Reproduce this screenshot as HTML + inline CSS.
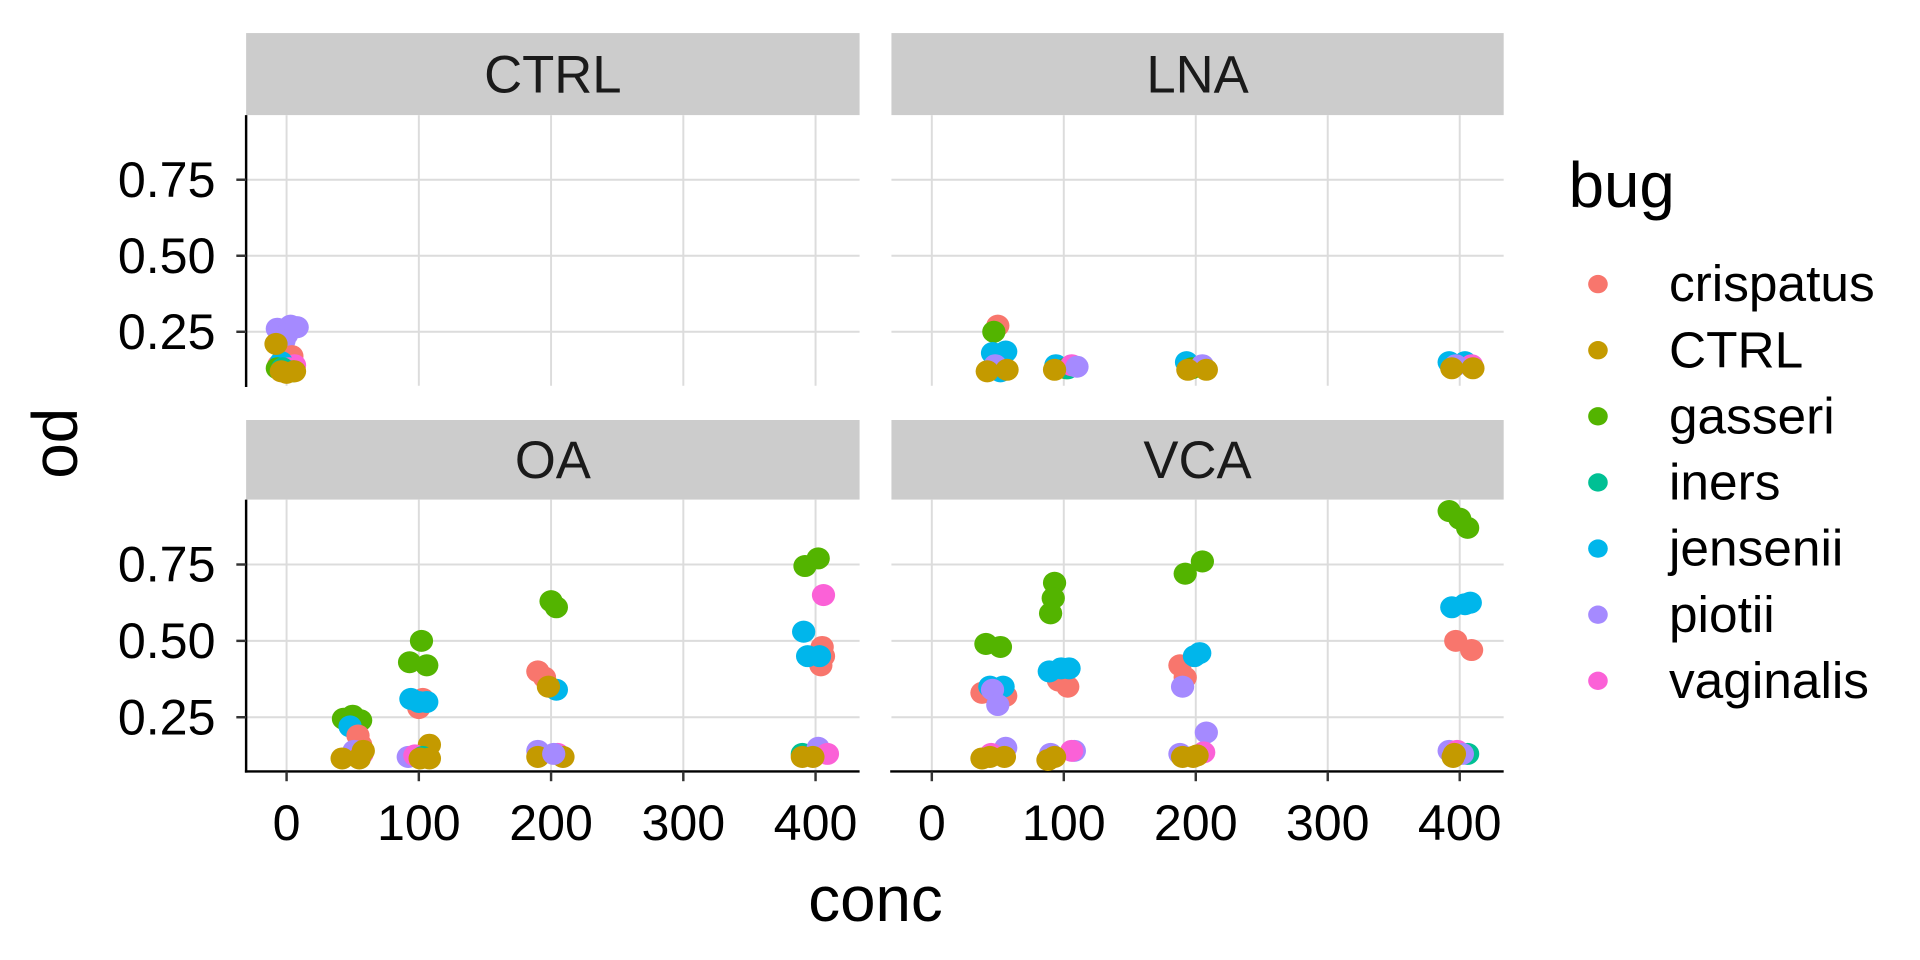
<!DOCTYPE html>
<html><head><meta charset="utf-8"><style>
html,body{margin:0;padding:0;background:#fff;}
svg{display:block;font-family:"Liberation Sans",Arial,sans-serif;}
</style></head><body>
<svg id="chart" width="1920" height="960" viewBox="0 0 1568 784" preserveAspectRatio="none" xmlns="http://www.w3.org/2000/svg"></svg>
<script>
// ---- data ----
const bugNames = ["crispatus","CTRL","gasseri","iners","jensenii","piotii","vaginalis"];
const bugColors = ["#F8766D","#C49A00","#53B400","#00C094","#00B6EB","#A58AFF","#FB61D7"];
const panelNames = ["CTRL","LNA","OA","VCA"];
const xTicks = [0,100,200,300,400];
const yTicks = [0.25,0.50,0.75];
const yTickLabels = ["0.25","0.50","0.75"];
// rows: [conc, jitter, bugIndex, od]
const ctrlPoints = [
 [0,-7,5,0.26],[0,3,5,0.27],[0,8,5,0.265],[0,0,5,0.24],[0,-2,5,0.22],
 [0,4,0,0.17],[0,-6,0,0.14],[0,6,6,0.14],[0,-4,4,0.15],[0,2,6,0.13],
 [0,-7,2,0.13],[0,5,2,0.12],[0,-3,3,0.13],[0,-8,1,0.21],[0,-4,1,0.12],[0,6,1,0.12],[0,0,1,0.115]
];
const lnaPoints = [
 [50,0,0,0.27],[50,-3,2,0.25],[50,-4,4,0.18],[50,6,4,0.185],[50,2,4,0.12],[50,-2,5,0.14],[50,-8,1,0.12],[50,7,1,0.125],
 [100,-6,4,0.14],[100,2,2,0.13],[100,3,3,0.13],[100,6,6,0.14],[100,10,5,0.135],[100,-7,1,0.125],
 [200,-7,4,0.15],[200,-3,2,0.13],[200,5,5,0.14],[200,8,1,0.125],[200,-6,1,0.125],
 [400,-8,4,0.15],[400,4,4,0.15],[400,9,6,0.14],[400,-3,5,0.14],[400,-6,1,0.13],[400,10,1,0.13]
];
const oaPoints = [
 [50,-7,2,0.245],[50,0,2,0.255],[50,6,2,0.24],[50,-2,4,0.22],[50,4,0,0.19],[50,6,0,0.16],
 [50,1,5,0.14],[50,7,6,0.13],[50,8,1,0.14],[50,-8,1,0.115],[50,5,1,0.115],
 [100,-7,2,0.43],[100,2,2,0.50],[100,6,2,0.42],[100,0,0,0.28],[100,3,0,0.31],[100,-6,4,0.31],[100,0,4,0.30],[100,6,4,0.30],
 [100,8,1,0.16],[100,-8,5,0.12],[100,-3,6,0.125],[100,3,3,0.12],[100,1,1,0.115],[100,8,1,0.115],
 [200,0,2,0.63],[200,4,2,0.61],[200,-10,0,0.40],[200,-5,0,0.38],[200,4,4,0.34],[200,-2,1,0.35],
 [200,-10,5,0.14],[200,5,6,0.13],[200,9,1,0.12],[200,-10,1,0.12],[200,2,5,0.13],
 [400,-8,2,0.745],[400,2,2,0.77],[400,6,6,0.65],[400,-9,4,0.53],[400,5,0,0.48],[400,6,0,0.45],[400,4,0,0.42],
 [400,-6,4,0.45],[400,3,4,0.45],[400,-10,3,0.13],[400,2,5,0.15],[400,9,6,0.13],[400,-10,1,0.12],[400,-2,1,0.12]
];
const vcaPoints = [
 [50,-9,2,0.49],[50,2,2,0.48],[50,-12,0,0.33],[50,6,0,0.32],[50,-6,4,0.35],[50,4,4,0.35],[50,-4,5,0.34],[50,0,5,0.29],
 [50,6,5,0.15],[50,-5,6,0.13],[50,-12,1,0.115],[50,-6,1,0.12],[50,5,1,0.12],
 [100,-7,2,0.69],[100,-8,2,0.64],[100,-10,2,0.59],[100,-4,0,0.37],[100,3,0,0.35],[100,-11,4,0.40],[100,-2,4,0.41],[100,4,4,0.41],
 [100,8,5,0.14],[100,-10,5,0.13],[100,6,6,0.14],[100,-12,1,0.11],[100,-7,1,0.12],
 [200,-8,2,0.72],[200,5,2,0.76],[200,-12,0,0.42],[200,-8,0,0.38],[200,-1,4,0.45],[200,3,4,0.46],[200,-10,5,0.35],[200,8,5,0.20],
 [200,6,6,0.135],[200,-12,5,0.13],[200,-10,1,0.12],[200,-2,1,0.12],[200,1,1,0.125],
 [400,-8,2,0.925],[400,0,2,0.90],[400,6,2,0.87],[400,-6,4,0.61],[400,4,4,0.62],[400,8,4,0.625],[400,-3,0,0.50],[400,9,0,0.47],
 [400,6,3,0.13],[400,-8,5,0.14],[400,-2,6,0.14],[400,2,5,0.13],[400,-5,1,0.12],[400,-4,1,0.13]
];
const panelData = [ctrlPoints, lnaPoints, oaPoints, vcaPoints];

// ---- layout ----
const NS = "http://www.w3.org/2000/svg";
const svg = document.getElementById("chart");
const panels = [
 {x0:201,x1:702,y0:94,y1:315,s0:27},
 {x0:728,x1:1228,y0:94,y1:315,s0:27},
 {x0:201,x1:702,y0:408,y1:630,s0:343},
 {x0:728,x1:1228,y0:408,y1:630,s0:343}
];
const xMin=-30.6, xMax=433.3, yMin=0.0726, yMax=0.9625;
function mk(tag, attrs, parent){
  const e=document.createElementNS(NS,tag);
  for(const k in attrs) e.setAttribute(k,attrs[k]);
  (parent||svg).appendChild(e); return e;
}
panels.forEach((p,pi)=>{
  const xs = v => p.x0 + (v-xMin)/(xMax-xMin)*(p.x1-p.x0);
  const ys = v => p.y1 - (v-yMin)/(yMax-yMin)*(p.y1-p.y0);
  const g = mk("g",{});
  
  
  const strip = mk("rect",{x:p.x0,y:p.s0,width:p.x1-p.x0,height:p.y0-p.s0,fill:"#CCCCCC"},g);
  
  
  const st = mk("text",{x:(p.x0+p.x1)/2,y:(p.s0+p.y0)/2+15,"text-anchor":"middle","font-size":43,fill:"#1A1A1A"},g);
  st.textContent = panelNames[pi];
  
  
  yTicks.forEach(t=>{
    const l=mk("line",{x1:p.x0,x2:p.x1,y1:ys(t),y2:ys(t),stroke:"#DCDCDC","stroke-width":1.6},g);
    
    
  });
  xTicks.forEach(t=>{
    const l=mk("line",{x1:xs(t),x2:xs(t),y1:p.y0,y2:p.y1,stroke:"#DCDCDC","stroke-width":1.6},g);
    
    
  });
  if(pi%2===0){
    const ax=mk("line",{x1:p.x0,x2:p.x0,y1:p.y0,y2:p.y1+1,stroke:"#000","stroke-width":2},g);
    
    
    yTicks.forEach((t,i)=>{
      const tk=mk("line",{x1:p.x0-8,x2:p.x0,y1:ys(t),y2:ys(t),stroke:"#333","stroke-width":2},g);
      
      
      const tl=mk("text",{x:p.x0-25,y:ys(t)+14,"text-anchor":"end","font-size":41,fill:"#000"},g);
      tl.textContent=yTickLabels[i];
      
      
    });
  }
  if(pi>=2){
    const ax=mk("line",{x1:p.x0-1,x2:p.x1,y1:p.y1,y2:p.y1,stroke:"#000","stroke-width":2},g);
    
    
    xTicks.forEach(t=>{
      const tk=mk("line",{x1:xs(t),x2:xs(t),y1:p.y1,y2:p.y1+8,stroke:"#333","stroke-width":2},g);
      
      
      const tl=mk("text",{x:xs(t),y:p.y1+56,"text-anchor":"middle","font-size":41,fill:"#000"},g);
      tl.textContent=String(t);
      
      
    });
  }
  panelData[pi].forEach(r=>{
    const c=mk("ellipse",{cx:xs(r[0]+r[1]),cy:ys(r[3]),rx:9.5,ry:9,fill:bugColors[r[2]]},g);
    
    
  });
});
// axis titles
const yt=mk("text",{x:0,y:0,transform:"translate(63,362) rotate(-90)","text-anchor":"middle","font-size":52,fill:"#000"});
yt.textContent="od";


const xt=mk("text",{x:715,y:752,"text-anchor":"middle","font-size":52,fill:"#000"});
xt.textContent="conc";


// legend
const lg=mk("g",{});


const lt=mk("text",{x:1281,y:169,"font-size":52,fill:"#000"},lg);
lt.textContent="bug";


bugNames.forEach((b,i)=>{
  const y=232+i*54;
  const e=mk("g",{},lg);
  
  
  mk("ellipse",{cx:1305,cy:y,rx:8,ry:7.5,fill:bugColors[i]},e);
  const t=mk("text",{x:1363,y:y+14,"font-size":42,fill:"#000"},e);
  t.textContent=b;
});
</script>
</body></html>
